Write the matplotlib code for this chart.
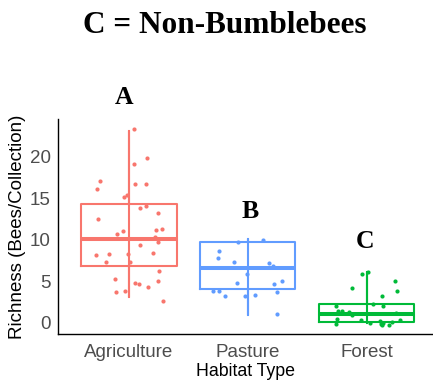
import matplotlib
matplotlib.use("Agg")
import matplotlib.pyplot as plt

# habitat groups and ggplot-style hues
habitats = ["Agriculture", "Pasture", "Forest"]
colors = ["#F8766D", "#619CFF", "#00BA38"]
letters = ["A", "B", "C"]
letter_x = [0.96, 2.02, 2.99]
letter_y = [26.4, 12.65, 9.04]

# box summaries: whisker low, q1, median, q3, whisker high
box_lo = [3.1, 1.0, 0.0]
box_q1 = [6.9, 4.05, 0.1]
box_med = [10.1, 6.6, 1.05]
box_q3 = [14.3, 9.8, 2.3]
box_hi = [23.1, 10.1, 6.2]

# richness per collection (jittered points)
agri_y = [23.4, 19.9, 19.2, 17.1, 16.2, 16.8, 16.7, 15.2, 15.4, 13.9,
          14.1, 13.3, 12.5, 10.7, 11.1, 11.2, 11.3, 10.4, 9.8, 9.4,
          8.4, 8.3, 8.2, 8.3, 7.4, 7.3, 6.3, 5.3, 5.1, 4.8,
          4.7, 4.3, 3.7, 3.9, 2.7]
agri_dx = [0.04, 0.15, 0.04, -0.24, -0.27, 0.05, 0.14, -0.04, -0.02, 0.09,
           0.14, 0.24, -0.26, -0.10, -0.05, 0.23, 0.28, 0.22, 0.24, 0.09,
           0.20, -0.01, -0.28, -0.17, -0.19, 0.01, 0.25, -0.12, 0.24, 0.05,
           0.08, 0.16, -0.11, -0.03, 0.29]
past_y = [10.0, 9.7, 8.7, 7.8, 7.3, 7.2, 6.9, 5.9, 4.8, 4.7,
          5.1, 3.8, 3.9, 3.7, 3.2, 3.2, 3.4, 1.1]
past_dx = [0.13, -0.08, -0.24, -0.25, -0.12, 0.18, 0.21, -0.01, -0.09, 0.22,
           0.29, -0.29, -0.24, 0.25, -0.19, -0.02, 0.06, 0.25]
fore_y = [6.1, 5.9, 5.1, 4.2, 3.9, 3.3, 2.3, 2.0, 2.0, 1.4,
          1.4, 1.3, 1.0, 1.2, 0.5, 0.4, 0.3, -0.1, 0.0, 0.2,
          -0.1, 0.0, -0.3, 0.1, -0.2]
fore_dx = [0.01, -0.04, 0.24, -0.12, 0.26, 0.13, 0.05, 0.14, -0.26, -0.24,
           -0.21, -0.15, -0.12, 0.25, -0.25, 0.28, -0.05, -0.26, 0.03, 0.11,
           0.12, 0.14, 0.13, 0.21, 0.19]

points_y = [agri_y, past_y, fore_y]
points_dx = [agri_dx, past_dx, fore_dx]

sans = "Liberation Sans"
serif = "Liberation Serif"

fig = plt.figure(figsize=(4.33, 3.81), dpi=100)
ax = fig.add_axes([0.1333, 0.1234, 0.8667, 0.5635])

for i, name in enumerate(habitats):
    pos = i + 1
    c = colors[i]
    # whisker line runs through the box
    ax.vlines(pos, box_lo[i], box_hi[i], color=c, lw=1.5, zorder=2)
    stats = [dict(whislo=box_lo[i], q1=box_q1[i], med=box_med[i],
                  q3=box_q3[i], whishi=box_hi[i], label=name)]
    ax.bxp(stats, positions=[pos], widths=0.8, showcaps=False,
           showfliers=False, patch_artist=False,
           boxprops=dict(color=c, lw=1.5),
           whiskerprops=dict(color=c, lw=1.5),
           medianprops=dict(color=c, lw=2.9, solid_capstyle="butt"),
           zorder=3)
    xs = [pos + d for d in points_dx[i]]
    ax.scatter(xs, points_y[i], s=9, color=c, linewidths=0, zorder=4)
    ax.text(letter_x[i], letter_y[i], letters[i], ha="center", va="baseline",
            family=serif, fontweight="bold", fontsize=18.5, clip_on=False)

ax.set_xlim(0.4, 3.559)
ax.set_ylim(-1.325, 24.54)
ax.set_xticks([1, 2, 3])
ax.set_xticklabels(habitats)
ax.set_yticks([0, 5, 10, 15, 20])
ax.tick_params(length=0, labelsize=13.5, labelcolor="#4D4D4D")
ax.tick_params(axis="x", pad=7)
ax.tick_params(axis="y", pad=5)
for lab in ax.get_xticklabels() + ax.get_yticklabels():
    lab.set_family(sans)

for side in ["top", "right"]:
    ax.spines[side].set_visible(False)
for side in ["left", "bottom"]:
    ax.spines[side].set_color("black")
    ax.spines[side].set_linewidth(1.0)

ax.set_xlabel("Habitat Type", family=sans, fontsize=12.8, labelpad=2)
ax.set_ylabel("Richness (Bees/Collection)", family=sans, fontsize=13.5, labelpad=3)

fig.text(0.52, 0.913, "C = Non-Bumblebees", ha="center", va="baseline",
         family=serif, fontweight="bold", fontsize=22.5)

fig.savefig("out.png", dpi=100)
